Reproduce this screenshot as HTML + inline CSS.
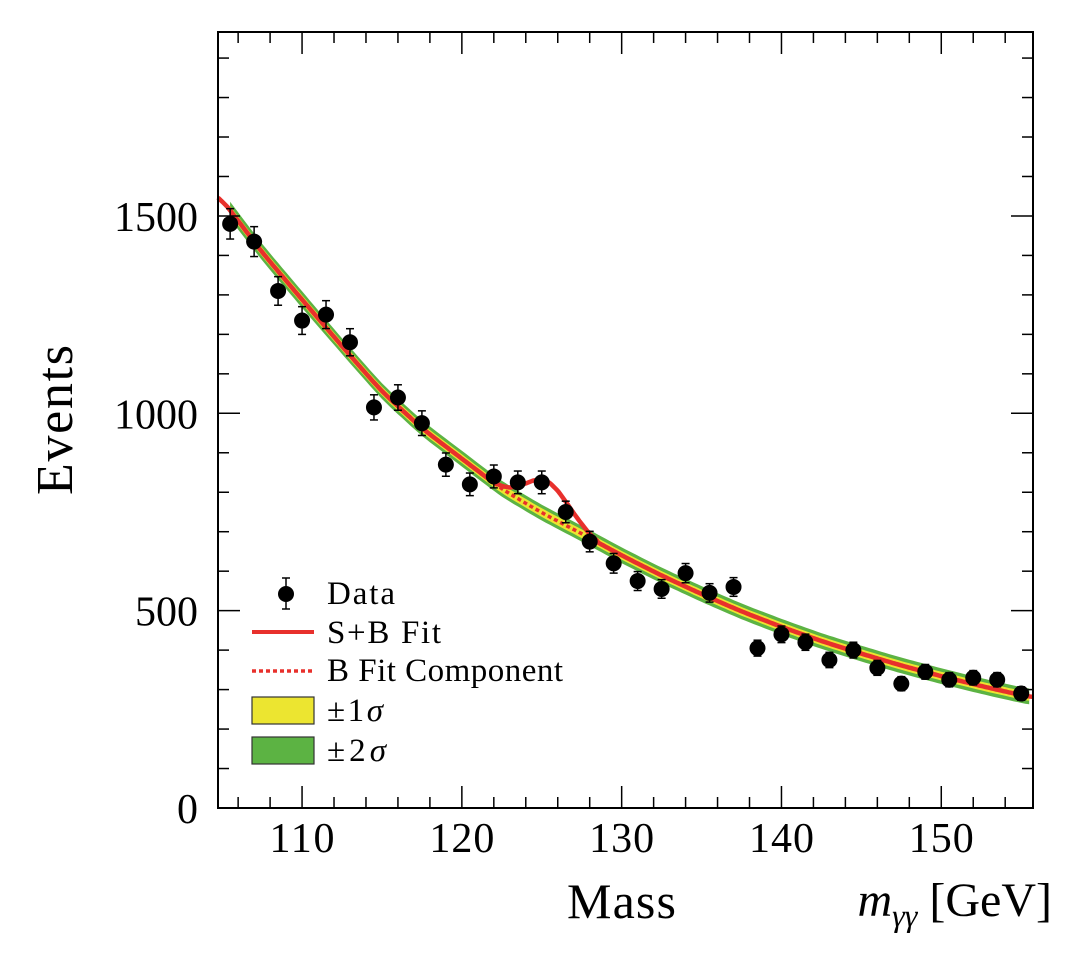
<!DOCTYPE html>
<html><head><meta charset="utf-8"><style>
html,body{margin:0;padding:0;background:#fff;}
svg{display:block;font-family:"Liberation Serif",serif;}
</style></head><body>
<svg id="chart" width="1080" height="954" viewBox="0 0 1080 954" xmlns="http://www.w3.org/2000/svg">
<g id="bands"></g>
<g id="lines"></g>
<g id="points"></g>
<g id="axes"></g>
<text x="0" y="0" font-size="52" text-anchor="middle" textLength="150" transform="translate(72,420) rotate(-90)">Events</text>
<text x="567" y="918" font-size="50" textLength="109">Mass</text>
<text x="1052" y="916" font-size="48" text-anchor="end"><tspan font-style="italic">m</tspan><tspan font-style="italic" font-size="32" dy="10">γγ</tspan><tspan dy="-10"> [GeV]</tspan></text>
<g>
  <line x1="286" y1="578" x2="286" y2="609" stroke="#000" stroke-width="1.5"/>
  <line x1="282" y1="578" x2="290" y2="578" stroke="#000" stroke-width="1.5"/>
  <line x1="282" y1="609" x2="290" y2="609" stroke="#000" stroke-width="1.5"/>
  <circle cx="286" cy="594" r="8" fill="#000"/>
  <text x="327" y="604" font-size="33" textLength="68">Data</text>
  <line x1="252" y1="632" x2="314" y2="632" stroke="#e8302c" stroke-width="4"/>
  <text x="327" y="643" font-size="33" textLength="114">S+B Fit</text>
  <line x1="252" y1="671" x2="314" y2="671" stroke="#e8302c" stroke-width="3.5" stroke-dasharray="4,3"/>
  <text x="327" y="681" font-size="33" textLength="236">B Fit Component</text>
  <rect x="252" y="697" width="62" height="27" fill="#ece530" stroke="#333" stroke-width="1.2"/>
  <text x="327" y="721" font-size="33" textLength="56">±1<tspan font-style="italic">σ</tspan></text>
  <rect x="252" y="737" width="62" height="27" fill="#5cb343" stroke="#333" stroke-width="1.2"/>
  <text x="327" y="761" font-size="33" textLength="59">±2<tspan font-style="italic">σ</tspan></text>
</g>
</svg>
<script>
// ---- data ----
const dataMass = [105.5,107,108.5,110,111.5,113,114.5,116,117.5,119,120.5,122,123.5,125,126.5,128,129.5,131,132.5,134,135.5,137,138.5,140,141.5,143,144.5,146,147.5,149,150.5,152,153.5,155];
const dataEvents = [1480,1435,1310,1235,1250,1180,1015,1040,975,870,820,840,825,825,750,675,620,575,555,595,545,560,405,440,420,375,400,355,315,345,325,330,325,290];
const bgMass = [104.7,105.5,107.5,110,112.5,115,117.5,120,122.5,125,127.5,130,132.5,135,137.5,140,142.5,145,147.5,150,152.5,155,155.8];
const bgEvents = [1556,1514,1408,1288,1170,1055,962,885,808,748,695,640,589,542,498,459,423,391,361,334,309,286,280];
const sigMass = [122,123,123.5,124,124.5,125,125.5,126,126.5,127,127.5,128,128.5];
const sigEvents = [0,12,30,50,72,88,92,80,60,40,24,8,0];
const band1 = [11,11,11,11,11,11,11,11,11,11,11,11,11,11,11,11,11,11,11,11,11,11,11];
const band2 = [22,22,21,21,20,20,20,20,20,20,20,20,20,20,20,20,20,20,20,20,20,20,20];
const xTicks = [110,120,130,140,150];
const yTicks = [0,500,1000,1500];

(function(){
var PL=218,PR=1033,PT=32,PB=808;
var X0=104.74,X1=155.74;
function xs(m){return PL+(m-X0)/(X1-X0)*(PR-PL);}
function ys(v){return PB-v*0.3947;}
var NS="http://www.w3.org/2000/svg";
function mk(tag,attrs,parent){var e=document.createElementNS(NS,tag);for(var k in attrs)e.setAttribute(k,attrs[k]);parent.appendChild(e);return e;}
function interp(xa,ya,m){if(m<=xa[0])return ya[0];for(var i=1;i<xa.length;i++){if(m<=xa[i]){var f=(m-xa[i-1])/(xa[i]-xa[i-1]);return ya[i-1]+f*(ya[i]-ya[i-1]);}}return ya[ya.length-1];}
function smooth(xa,ya,m){var h=0.6;return (interp(xa,ya,m-h)+2*interp(xa,ya,m)+interp(xa,ya,m+h))/4;}
function bg(m){return smooth(bgMass,bgEvents,m);}
function sig(m){return (m<sigMass[0]||m>sigMass[sigMass.length-1])?0:smooth(sigMass,sigEvents,m);}

var bands=document.getElementById('bands');
function band(widths,color,name){
  var up=[],dn=[];
  for(var m=105.5;m<=X1;m+=0.25){var w=interp(bgMass,widths,m);var c=bg(m);up.push(xs(m).toFixed(1)+','+ys(c+w).toFixed(1));dn.unshift(xs(m).toFixed(1)+','+ys(c-w).toFixed(1));}
  var p=mk('polygon',{points:up.concat(dn).join(' '),fill:color},bands);
  
  
}
band(band2,'#5cb343','band-2sigma');
band(band1,'#ece530','band-1sigma');

var lines=document.getElementById('lines');
var bp=[],sp=[];
for(var m=X0;m<=X1+0.001;m+=0.1){bp.push(xs(m).toFixed(1)+','+ys(bg(m)).toFixed(1));sp.push(xs(m).toFixed(1)+','+ys(bg(m)+sig(m)).toFixed(1));}
var bl=mk('polyline',{points:bp.join(' '),fill:'none',stroke:'#e8302c','stroke-width':3.5,'stroke-dasharray':'4,3'},lines);


var sl=mk('polyline',{points:sp.join(' '),fill:'none',stroke:'#e8302c','stroke-width':4.5},lines);



var pts=document.getElementById('points');
dataMass.forEach(function(mm,i){
  var v=dataEvents[i],e=Math.sqrt(v),x=xs(mm);
  var g=mk('g',{},pts);
  
  
  mk('line',{x1:x,x2:x,y1:ys(v+e),y2:ys(v-e),stroke:'#000','stroke-width':1.5},g);
  mk('line',{x1:x-4,x2:x+4,y1:ys(v+e),y2:ys(v+e),stroke:'#000','stroke-width':1.5},g);
  mk('line',{x1:x-4,x2:x+4,y1:ys(v-e),y2:ys(v-e),stroke:'#000','stroke-width':1.5},g);
  mk('circle',{cx:x,cy:ys(v),r:8,fill:'#000'},g);
});

var ax=document.getElementById('axes');
var fr=mk('rect',{x:PL,y:PT,width:PR-PL,height:PB-PT,fill:'none',stroke:'#000','stroke-width':2},ax);


for(var t=106;t<=X1;t+=2){var major=t%10===0;var len=major?22:11;
  mk('line',{x1:xs(t),x2:xs(t),y1:PB,y2:PB-len,stroke:'#000','stroke-width':1.5},ax);
  mk('line',{x1:xs(t),x2:xs(t),y1:PT,y2:PT+len,stroke:'#000','stroke-width':1.5},ax);}
for(var v=0;v<=1900;v+=100){var mj=v%500===0;var ln=mj?22:11;
  mk('line',{x1:PL,x2:PL+ln,y1:ys(v),y2:ys(v),stroke:'#000','stroke-width':1.5},ax);
  mk('line',{x1:PR,x2:PR-ln,y1:ys(v),y2:ys(v),stroke:'#000','stroke-width':1.5},ax);}
xTicks.forEach(function(tk){var tx=mk('text',{x:xs(tk),y:852,'font-size':42,'text-anchor':'middle',textLength:65},ax);tx.textContent=tk;
  
  });
yTicks.forEach(function(tk){var tx=mk('text',{x:198,y:ys(tk)+15,'font-size':42,'text-anchor':'end'},ax);tx.textContent=tk;
  
  });
})();
</script>
</body></html>
